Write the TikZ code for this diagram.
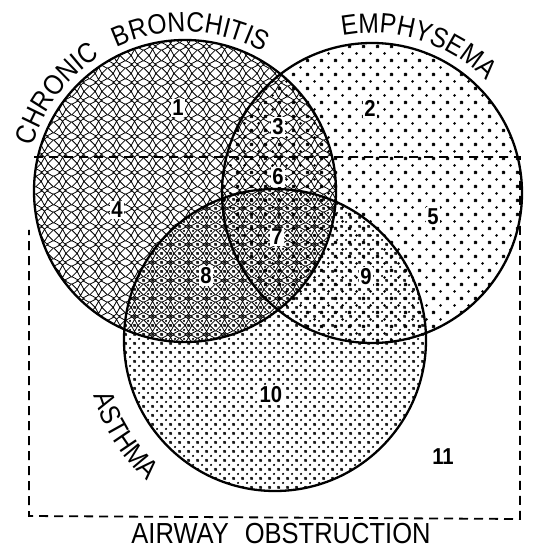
\documentclass[tikz,border=0pt]{standalone}
\usepackage{fontspec}
\newfontfamily\letterfont[FakeStretch=0.88]{Liberation Sans}
\usetikzlibrary{patterns.meta,decorations.text}

\tikzdeclarepattern{
  name=lattice,
  type=uncolored,
  bounding box={(0pt,0pt) and (18pt,18pt)},
  tile size={(18pt,18pt)},
  code={
    \draw[line width=0.85pt] (9pt,2.5pt) -- (12.5pt,9pt) -- (9pt,15.5pt) -- (5.5pt,9pt) -- cycle;
    \foreach \cx in {0,18}
      \foreach \cy in {0,18}
        \draw[line width=0.85pt,shift={(\cx pt,\cy pt)}] (-6.5pt,0pt) -- (0pt,3.5pt) -- (6.5pt,0pt) -- (0pt,-3.5pt) -- cycle;
    \draw[line width=0.85pt] (6.5pt,0pt) -- (9pt,2.5pt) -- (11.5pt,0pt)
      (6.5pt,18pt) -- (9pt,15.5pt) -- (11.5pt,18pt)
      (0pt,3.5pt) -- (5.5pt,9pt) -- (0pt,14.5pt)
      (18pt,3.5pt) -- (12.5pt,9pt) -- (18pt,14.5pt);
  }
}
\tikzdeclarepattern{
  name=sparsedots,
  type=uncolored,
  bounding box={(0pt,0pt) and (14pt,14pt)},
  tile size={(14pt,14pt)},
  code={
    \foreach \px/\py in {0/0,14/0,0/14,14/14,7/7}
      \fill (\px pt,\py pt) circle[radius=1.6pt];
  }
}
\tikzdeclarepattern{
  name=densedots,
  type=uncolored,
  bounding box={(0pt,0pt) and (9pt,9pt)},
  tile size={(9pt,9pt)},
  code={
    \foreach \px/\py in {0/0,9/0,0/9,9/9,4.5/4.5}
      \fill (\px pt,\py pt) circle[radius=1.3pt];
  }
}

\begin{document}
\begin{tikzpicture}[x=1pt,y=1pt,
  regnum/.style={fill=white,inner sep=1.5pt,font=\letterfont\fontsize{23}{23}\selectfont\bfseries},
  rim/.style={line width=2.3pt},
  framedash/.style={line width=1.8pt,dash pattern=on 9pt off 6pt},
  bigletters/.style={inner sep=0pt,font=\letterfont\fontsize{29}{29}\selectfont}]
  \useasboundingbox (0,0) rectangle (533,550);
  \coordinate (cb) at (185,359);
  \coordinate (em) at (372,357);
  \coordinate (as) at (275,210);
  \fill[pattern=lattice] (cb) circle[radius=151];
  \fill[pattern=sparsedots] (em) circle[radius=150];
  \fill[pattern=densedots] (as) circle[radius=151];
  \draw[framedash] (34,393) -- (520,393) -- (520,31) -- (29,34) -- (29,320);
  \draw[rim] (cb) circle[radius=151];
  \draw[rim] (em) circle[radius=150];
  \draw[rim] (as) circle[radius=151];
  \node[regnum] (r1) at (178,442) {1};
  \node[regnum] (r2) at (370,442) {2};
  \node[regnum] (r3) at (278,423) {3};
  \node[regnum] (r4) at (117,340) {4};
  \node[regnum] (r5) at (433,333) {5};
  \node[regnum] (r6) at (278,373) {6};
  \node[regnum] (r7) at (277,313) {7};
  \node[regnum] (r8) at (206,274) {8};
  \node[regnum] (r9) at (366,273) {9};
  \node[regnum] (r10) at (271,155) {10};
  \node[regnum] (r11) at (443,93) {11};
  \path[decorate,decoration={text along path,text align=center,
    text={|\letterfont\fontsize{28}{28}\selectfont|CHRONIC}}]
    (cb) ++(168:159) arc[start angle=168,end angle=118,radius=159];
  \path[decorate,decoration={text along path,text align=center,
    text={|\letterfont\fontsize{28}{28}\selectfont|BRONCHITIS}}]
    (cb) ++(125:159) arc[start angle=125,end angle=51,radius=159];
  \path[decorate,decoration={text along path,text align=center,
    text={|\letterfont\fontsize{28}{28}\selectfont|EMPHYSEMA}}]
    (em) ++(112:160) arc[start angle=112,end angle=33,radius=160];
  \path[decorate,decoration={text along path,text align=center,
    text={|\letterfont\fontsize{28}{28}\selectfont|ASTHMA}}]
    (as) ++(178:190) arc[start angle=178,end angle=247,radius=190];
  \node[bigletters,anchor=base] (airway) at (281,6) {AIRWAY\hspace{16pt}OBSTRUCTION};
\end{tikzpicture}
\end{document}
